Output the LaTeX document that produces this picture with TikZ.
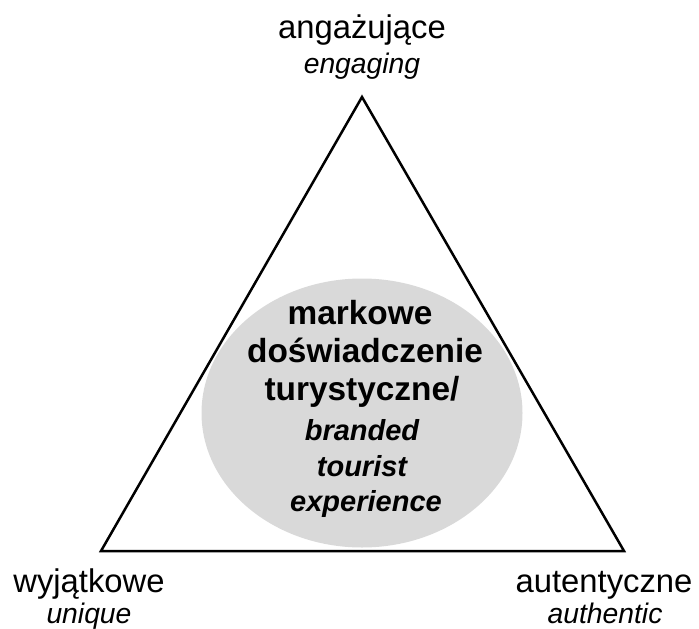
\documentclass[tikz,border=0pt]{standalone}
\usepackage{fontspec}
\setmainfont{Liberation Sans}
\usetikzlibrary{shapes.geometric}
\definecolor{ellgray}{RGB}{217,217,217}
\begin{document}
\begin{tikzpicture}[x=1pt,y=-1pt,
  lbl/.style={anchor=base,inner sep=0pt,font=\fontsize{32.8}{38}\selectfont},
  sublbl/.style={anchor=base,inner sep=0pt,font=\fontsize{28.3}{32}\selectfont\itshape},
  ctrb/.style={anchor=base,inner sep=0pt,font=\fontsize{33.4}{38}\selectfont\bfseries},
  ctri/.style={anchor=base,inner sep=0pt,font=\fontsize{29}{34}\selectfont\bfseries\itshape},
  tri/.style={draw=black,line width=2.5pt,line join=miter}]
\useasboundingbox (0,0) rectangle (699,629);
\coordinate (top) at (362,97);
\coordinate (bl) at (101,551);
\coordinate (br) at (624,551);
\node[ellipse,fill=ellgray,draw=none,minimum width=321pt,minimum height=269pt,inner sep=0pt] (ell) at (362,413) {};
\draw[tri] (top) -- (bl) -- (br) -- cycle;
\node[lbl] (topA) at (362,38) {angażujące};
\node[sublbl] (topB) at (362,73) {engaging};
\node[lbl] (blA) at (89,592) {wyjątkowe};
\node[sublbl] (blB) at (89,623) {unique};
\node[lbl] (brA) at (604,592) {autentyczne};
\node[sublbl] (brB) at (605,623) {authentic};
\node[ctrb] (c1) at (360,324) {markowe};
\node[ctrb] (c2) at (365,362) {doświadczenie};
\node[ctrb] (c3) at (362,400) {turystyczne/};
\node[ctri] (c4) at (362,440) {branded};
\node[ctri] (c5) at (362,476) {tourist};
\node[ctri] (c6) at (366,511) {experience};
\end{tikzpicture}
\end{document}
